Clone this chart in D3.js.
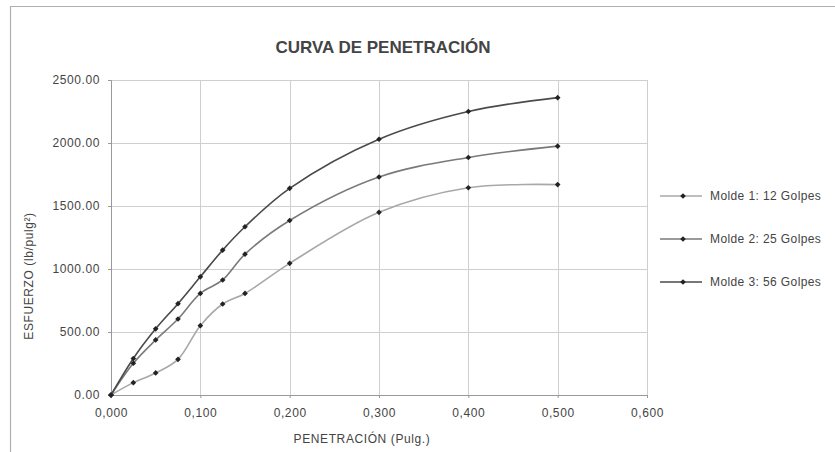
<!DOCTYPE html>
<html>
<head>
<meta charset="utf-8">
<script src="https://cdn.jsdelivr.net/npm/d3@7/dist/d3.min.js"></script>
<style>
  html, body { margin: 0; padding: 0; background: #fff; }
  svg { display: block; }
  text { font-family: "Liberation Sans", Arial, sans-serif; fill: #444; }
</style>
</head>
<body>
<svg id="chart" width="835" height="452"></svg>
<script>
// Penetración (pulg.) en cada lectura
const penetracion = [0, 0.025, 0.05, 0.075, 0.1, 0.125, 0.15, 0.2, 0.3, 0.4, 0.5];

// Esfuerzo (lb/pulg²) por molde
const molde1 = [0, 98, 175, 283, 550, 722, 806, 1045, 1450, 1645, 1670];
const molde2 = [0, 252, 437, 603, 806, 913, 1118, 1385, 1730, 1885, 1975];
const molde3 = [0, 290, 525, 725, 938, 1150, 1335, 1640, 2030, 2250, 2360];

const seriesNames = ["Molde 1: 12 Golpes", "Molde 2: 25 Golpes", "Molde 3: 56 Golpes"];
const seriesColors = ["#a8a8a8", "#7a7a7a", "#4a4a4a"];

const xTicks = [0, 0.1, 0.2, 0.3, 0.4, 0.5, 0.6];
const yTicks = [0, 500, 1000, 1500, 2000, 2500];

const svg = d3.select("#chart");

// outer frame (top and left edges)
svg.append("line").attr("x1", 10).attr("x2", 835).attr("y1", 6.5).attr("y2", 6.5)
  .attr("stroke", "#b0b0b0").attr("stroke-width", 1.2);
svg.append("line").attr("x1", 10.5).attr("x2", 10.5).attr("y1", 6).attr("y2", 452)
  .attr("stroke", "#b0b0b0").attr("stroke-width", 1.2);

const x = d3.scaleLinear().domain([0, 0.6]).range([111, 647]);
const y = d3.scaleLinear().domain([0, 2500]).range([395, 80]);

// grid
const grid = svg.append("g").attr("stroke", "#cfcfcf").attr("stroke-width", 1);
grid.selectAll(".gx").data(xTicks).join("line")
  .attr("x1", d => Math.round(x(d)) + 0.5).attr("x2", d => Math.round(x(d)) + 0.5)
  .attr("y1", y(2500)).attr("y2", y(0));
grid.selectAll(".gy").data(yTicks).join("line")
  .attr("x1", x(0)).attr("x2", x(0.6))
  .attr("y1", d => Math.round(y(d)) + 0.5).attr("y2", d => Math.round(y(d)) + 0.5);

// axes
const xAxis = d3.axisBottom(x).tickValues(xTicks)
  .tickFormat(d => d3.format(".3f")(d).replace(".", ","))
  .tickSize(3).tickPadding(10);
const gx = svg.append("g").attr("transform", `translate(0,${y(0)})`).call(xAxis);
gx.select(".domain").attr("stroke", "#999");
gx.selectAll(".tick line").attr("stroke", "#999");
gx.selectAll(".tick text").attr("font-size", 12).attr("letter-spacing", 0.6)
  .attr("fill", "#555").attr("font-family", null);

const yAxis = d3.axisLeft(y).tickValues(yTicks).tickFormat(d3.format(".2f"))
  .tickSize(3).tickPadding(8);
const gy = svg.append("g").attr("transform", `translate(${x(0)},0)`).call(yAxis);
gy.select(".domain").attr("stroke", "#999");
gy.selectAll(".tick line").attr("stroke", "#999");
gy.selectAll(".tick text").attr("font-size", 12).attr("letter-spacing", 0.6)
  .attr("fill", "#555").attr("font-family", null);

// title and axis titles
svg.append("text").attr("x", 383).attr("y", 53).attr("text-anchor", "middle")
  .attr("font-size", 17).attr("font-weight", "bold").attr("fill", "#333")
  .text("CURVA DE PENETRACIÓN");
svg.append("text").attr("x", 362).attr("y", 443).attr("text-anchor", "middle")
  .attr("font-size", 12).attr("letter-spacing", 0.6).attr("fill", "#555")
  .text("PENETRACIÓN (Pulg.)");
svg.append("text").attr("transform", "translate(33,276) rotate(-90)")
  .attr("text-anchor", "middle").attr("font-size", 12).attr("letter-spacing", 0.6)
  .attr("fill", "#555")
  .text("ESFUERZO (lb/pulg²)");

// series
const series = [molde1, molde2, molde3].map((vals, i) => ({
  name: seriesNames[i],
  color: seriesColors[i],
  points: penetracion.map((p, j) => [p, vals[j]])
}));

const line = d3.line().x(d => x(d[0])).y(d => y(d[1])).curve(d3.curveCatmullRom.alpha(0.5));
// small square marker turned 45° into an even diamond
const marker = d3.symbol().type(d3.symbolSquare).size(16);

const gs = svg.append("g").selectAll("g").data(series).join("g");
gs.append("path").attr("d", d => line(d.points))
  .attr("fill", "none").attr("stroke", d => d.color).attr("stroke-width", 1.6);
gs.selectAll("path.pt").data(d => d.points).join("path").attr("class", "pt")
  .attr("transform", d => `translate(${x(d[0])},${y(d[1])}) rotate(45)`)
  .attr("d", marker).attr("fill", "#222");

// legend
const legendY = [196, 239, 282];
const lg = svg.append("g").selectAll("g").data(series).join("g")
  .attr("transform", (d, i) => `translate(660,${legendY[i]})`);
lg.append("line").attr("x1", 0).attr("x2", 42).attr("y1", 0).attr("y2", 0)
  .attr("stroke", d => d.color).attr("stroke-width", 1.6);
lg.append("path").attr("transform", "translate(23,0) rotate(45)").attr("d", marker).attr("fill", "#222");
lg.append("text").attr("x", 50).attr("y", 4).attr("font-size", 12).attr("letter-spacing", 0.4)
  .attr("fill", "#555").text(d => d.name);
</script>
</body>
</html>
